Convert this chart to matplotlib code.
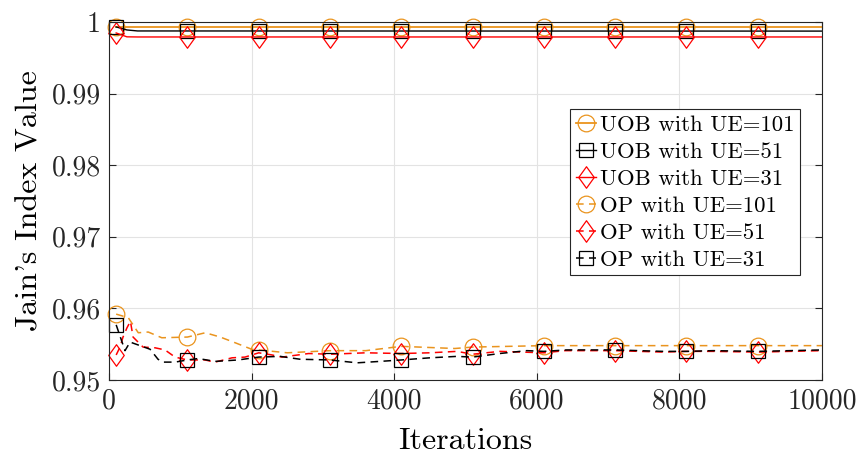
import numpy as np
import matplotlib
matplotlib.use("Agg")
import matplotlib.pyplot as plt
from matplotlib.path import Path

plt.rcParams["font.family"] = "serif"
plt.rcParams["font.serif"] = ["cmr10"]
plt.rcParams["mathtext.fontset"] = "cm"
plt.rcParams["axes.unicode_minus"] = False

# UOB runs (solid lines)
uob_x = [100, 250, 400, 10000]
uob101 = [0.9993, 0.9993, 0.9993, 0.9993]
uob51 = [0.9993, 0.99888, 0.99874, 0.99872]
uob31 = [0.99846, 0.99792, 0.9979, 0.9979]

# OP runs (dashed lines)
op101_x = [100, 270, 410, 550, 740, 1100, 1350, 1560, 1770, 2000, 2100, 2500,
           3100, 3600, 4100, 4850, 5100, 6100, 7100, 8100, 9100, 10000]
op101 = [0.9592, 0.9587, 0.9566, 0.9567, 0.9559, 0.9560, 0.9566, 0.9560, 0.9552,
         0.9543, 0.9542, 0.9538, 0.9541, 0.9541, 0.9547, 0.9544, 0.9546, 0.9548,
         0.9548, 0.9548, 0.9548, 0.9548]

op51_x = [100, 154, 196, 252, 300, 337, 477, 645, 785, 926, 1100, 1346, 1487,
          1725, 1907, 2100, 2286, 2426, 2800, 3100, 3600, 4100, 4500, 4880, 5100,
          5480, 6100, 6400, 7100, 7770, 8100, 8470, 9100, 10000]
op51 = [0.9535, 0.9546, 0.9560, 0.9573, 0.9582, 0.9560, 0.9546, 0.9545, 0.9542,
        0.9532, 0.9528, 0.9528, 0.9525, 0.9531, 0.9532, 0.9538, 0.9535, 0.9532,
        0.9537, 0.9536, 0.9538, 0.9537, 0.9538, 0.9540, 0.9536, 0.9540, 0.9538,
        0.9541, 0.9541, 0.9539, 0.9540, 0.9540, 0.9539, 0.9541]

op31_x = [100, 224, 295, 463, 575, 687, 757, 926, 1100, 1250, 1490, 1810, 2100,
          2400, 2680, 3100, 3480, 3800, 4100, 4500, 4880, 5100, 5480, 5860, 6100,
          6420, 7100, 7770, 8100, 8470, 9100, 9550, 10000]
op31 = [0.9577, 0.9541, 0.9553, 0.9547, 0.9543, 0.9529, 0.9525, 0.9525, 0.9528,
        0.9530, 0.9526, 0.9528, 0.9532, 0.9533, 0.9529, 0.9528, 0.9524, 0.9526,
        0.9528, 0.9531, 0.9533, 0.9532, 0.9537, 0.9541, 0.9540, 0.9542, 0.9542,
        0.9540, 0.9540, 0.9541, 0.9540, 0.9541, 0.9542]

x_ticks = [0, 2000, 4000, 6000, 8000, 10000]
x_labels = ["0", "2000", "4000", "6000", "8000", "10000"]
y_ticks = [0.95, 0.96, 0.97, 0.98, 0.99, 1.0]
y_labels = ["0.95", "0.96", "0.97", "0.98", "0.99", "1"]

orange = "#EA941E"
red = "#FF0000"
black = "#000000"

# slightly narrow diamond, like the MATLAB one
diamond = Path([(0, 1), (0.72, 0), (0, -1), (-0.72, 0), (0, 1)],
               [Path.MOVETO, Path.LINETO, Path.LINETO, Path.LINETO, Path.CLOSEPOLY])


def marks(xs):
    # markers every 1000 iterations, starting at 100
    return [i for i, v in enumerate(xs) if v % 1000 == 100]


# uob lines need their own marker positions
mk_x = list(range(100, 10000, 1000))
uob_x_full = sorted(set(uob_x + mk_x))
uob101_f = np.interp(uob_x_full, uob_x, uob101)
uob51_f = np.interp(uob_x_full, uob_x, uob51)
uob31_f = np.interp(uob_x_full, uob_x, uob31)

fig = plt.figure(figsize=(8.62, 4.55), dpi=100)
ax = fig.add_axes([0.1265, 0.1648, 0.827, 0.787])

common = dict(markerfacecolor="none", markeredgewidth=0.9, clip_on=False)
ax.plot(uob_x_full, uob101_f, "-", color=orange, lw=1.3, marker="o", ms=12,
        markevery=marks(uob_x_full), label="UOB with UE=101", **common)
ax.plot(uob_x_full, uob51_f, "-", color=black, lw=1.0, marker="s", ms=9.5,
        markevery=marks(uob_x_full), label="UOB with UE=51", **common)
ax.plot(uob_x_full, uob31_f, "-", color=red, lw=1.0, marker=diamond, ms=15.5,
        markevery=marks(uob_x_full), label="UOB with UE=31", **common)
ax.plot(op101_x, op101, "--", color=orange, lw=1.1, marker="o", ms=12,
        markevery=marks(op101_x), label="OP with UE=101", dashes=(5, 3.5), **common)
ax.plot(op51_x, op51, "--", color=red, lw=1.1, marker=diamond, ms=15.5,
        markevery=marks(op51_x), label="OP with UE=51", dashes=(5, 3.5), **common)
ax.plot(op31_x, op31, "--", color=black, lw=1.1, marker="s", ms=9.5,
        markevery=marks(op31_x), label="OP with UE=31", dashes=(5, 3.5), **common)

ax.set_xlim(0, 10000)
ax.set_ylim(0.95, 1.0)
ax.set_xticks(x_ticks)
ax.set_xticklabels(x_labels)
ax.set_yticks(y_ticks)
ax.set_yticklabels(y_labels)
ax.tick_params(direction="in", top=True, right=True, length=5, width=0.8,
               labelsize=20, pad=6, colors="#262626")
ax.grid(True, color="#E3E3E3", lw=0.8)
ax.set_axisbelow(True)
for s in ax.spines.values():
    s.set_color("#262626")
    s.set_linewidth(0.8)

ax.set_xlabel("Iterations", fontsize=23, labelpad=9)
ax.set_ylabel("Jain's Index Value", fontsize=23, labelpad=6)

leg = ax.legend(loc="upper left", bbox_to_anchor=(0.6466, 0.757), fontsize=16.4,
                handlelength=0.9, handletextpad=0.15, labelspacing=0.31,
                borderpad=0.25, borderaxespad=0, fancybox=False, framealpha=1,
                edgecolor="#262626")
leg.get_frame().set_linewidth(0.8)

fig.savefig("out.png", dpi=100)
